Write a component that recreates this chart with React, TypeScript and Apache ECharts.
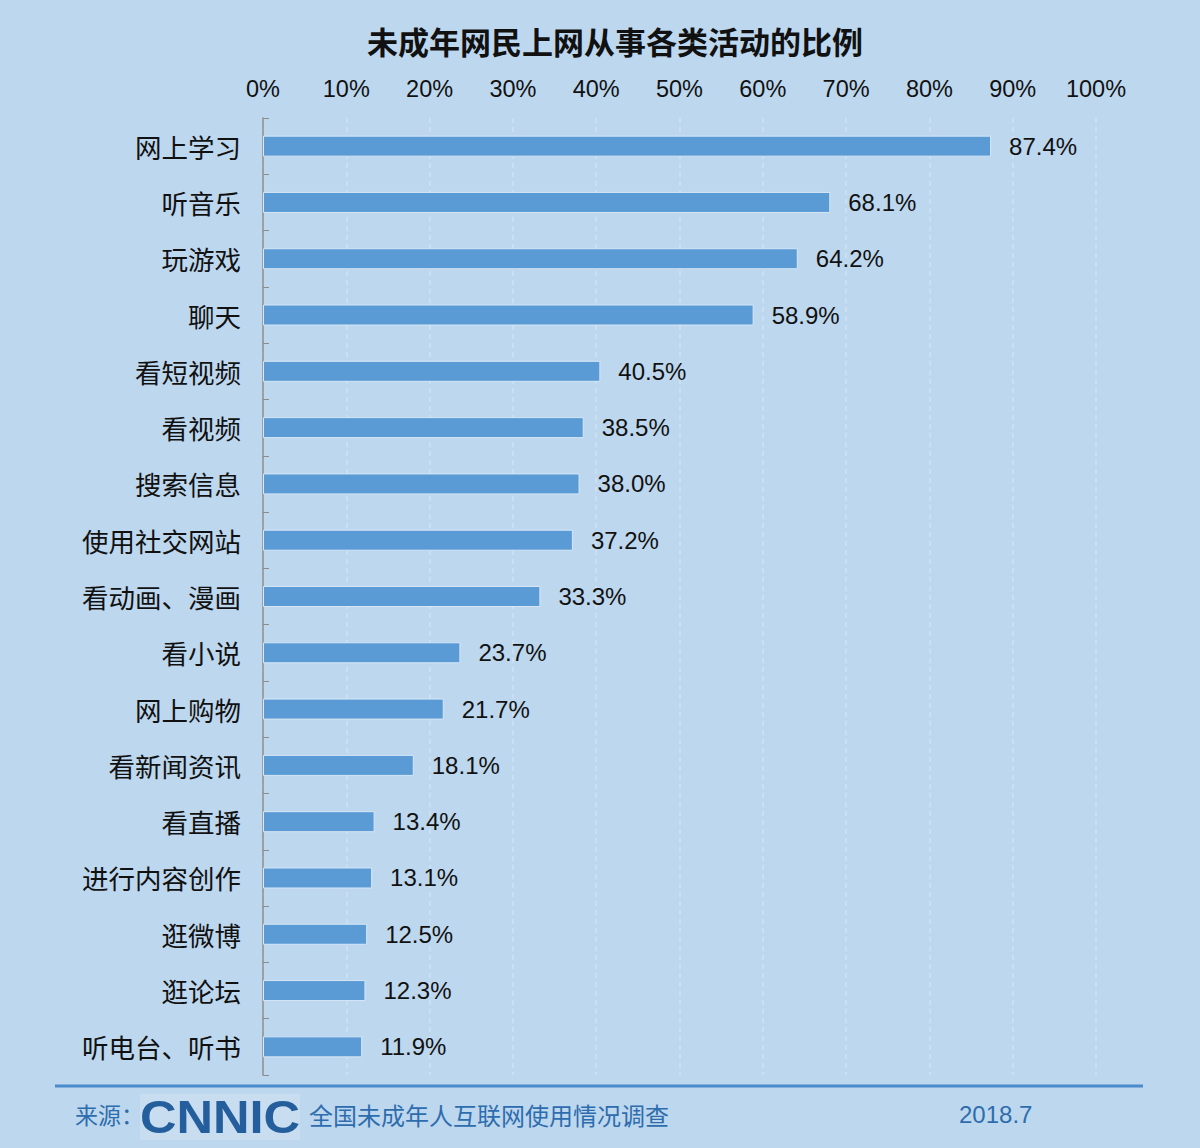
import React, { useEffect, useRef } from "react";
import * as echarts from "echarts";

const categories = [
  "网上学习",
  "听音乐",
  "玩游戏",
  "聊天",
  "看短视频",
  "看视频",
  "搜索信息",
  "使用社交网站",
  "看动画、漫画",
  "看小说",
  "网上购物",
  "看新闻资讯",
  "看直播",
  "进行内容创作",
  "逛微博",
  "逛论坛",
  "听电台、听书",
];
const values = [87.4, 68.1, 64.2, 58.9, 40.5, 38.5, 38.0, 37.2, 33.3, 23.7, 21.7, 18.1, 13.4, 13.1, 12.5, 12.3, 11.9];

const title = "未成年网民上网从事各类活动的比例";
const sourceLabel = "来源：";
const sourceName = "全国未成年人互联网使用情况调查";
const dateLabel = "2018.7";

const FONT = "'Liberation Sans', 'Noto Sans CJK SC', sans-serif";
const CJK = "'Noto Sans CJK SC', sans-serif";

export default function App() {
  const ref = useRef<HTMLDivElement>(null);
  useEffect(() => {
    if (!ref.current) return;
    const chart = echarts.init(ref.current, null, { renderer: "svg" });
    chart.setOption({
      animation: false,
      backgroundColor: "#BDD7EE",
      textStyle: { fontFamily: FONT },
      title: {
        text: title,
        left: 610,
        top: 20,
        textAlign: "center",
        textStyle: { fontSize: 31, fontWeight: "bold", color: "#111", fontFamily: CJK },
      },
      grid: { left: 263, right: 104, top: 118, bottom: 73, containLabel: false },
      xAxis: {
        type: "value",
        position: "top",
        min: 0,
        max: 100,
        interval: 10,
        axisLabel: {
          formatter: "{value}%",
          fontSize: 23.5,
          color: "#111",
          margin: 17,
          fontFamily: FONT,
        },
        axisLine: { show: false },
        axisTick: { show: false },
        splitLine: { show: true, lineStyle: { color: "#D0E2F3", type: [5, 4], width: 1.5 } },
      },
      yAxis: {
        type: "category",
        data: categories,
        inverse: true,
        axisLine: { show: true, lineStyle: { color: "#8C8C8C", width: 1.5 } },
        axisTick: { show: true, inside: true, length: 6, lineStyle: { color: "#8C8C8C" } },
        axisLabel: {
          fontSize: 26.5,
          color: "#111",
          margin: 22,
          fontFamily: CJK,
        },
        splitLine: { show: false },
      },
      series: [
        {
          type: "bar",
          data: values,
          barWidth: 21,
          itemStyle: { color: "#5B9BD5", borderColor: "#D6E6F6", borderWidth: 1 },
          label: {
            show: true,
            position: "right",
            distance: 18,
            formatter: (p: any) => p.value.toFixed(1) + "%",
            fontSize: 24,
            color: "#111",
            fontFamily: FONT,
          },
        },
      ],
      graphic: [
        {
          type: "line",
          shape: { x1: 55, y1: 1086, x2: 1143, y2: 1086 },
          style: { stroke: "#4A8BCB", lineWidth: 3 },
        },
        {
          type: "text",
          x: 75,
          y: 1114,
          style: {
            text: sourceLabel,
            fontSize: 23,
            fill: "#2E6DAD",
            fontFamily: CJK,
            verticalAlign: "middle",
          },
        },
        {
          type: "rect",
          shape: { x: 140, y: 1094, width: 160, height: 46 },
          style: { fill: "#C9DDF1" },
        },
        {
          type: "text",
          x: 220,
          y: 1117,
          scaleX: 1.1,
          style: {
            text: "CNNIC",
            fontSize: 46,
            fontWeight: 900,
            fill: "#245E9C",
            fontFamily: "'Liberation Sans', sans-serif",
            align: "center",
            verticalAlign: "middle",
          },
        },
        {
          type: "text",
          x: 309,
          y: 1114,
          style: {
            text: sourceName,
            fontSize: 24,
            fill: "#2E6DAD",
            fontFamily: CJK,
            verticalAlign: "middle",
          },
        },
        {
          type: "text",
          x: 959,
          y: 1114,
          style: {
            text: dateLabel,
            fontSize: 24,
            fill: "#2E6DAD",
            fontFamily: FONT,
            verticalAlign: "middle",
          },
        },
      ],
    });
    return () => chart.dispose();
  }, []);
  return <div ref={ref} style={{ position: "absolute", left: 0, top: 0, width: 1200, height: 1148 }} />;
}
